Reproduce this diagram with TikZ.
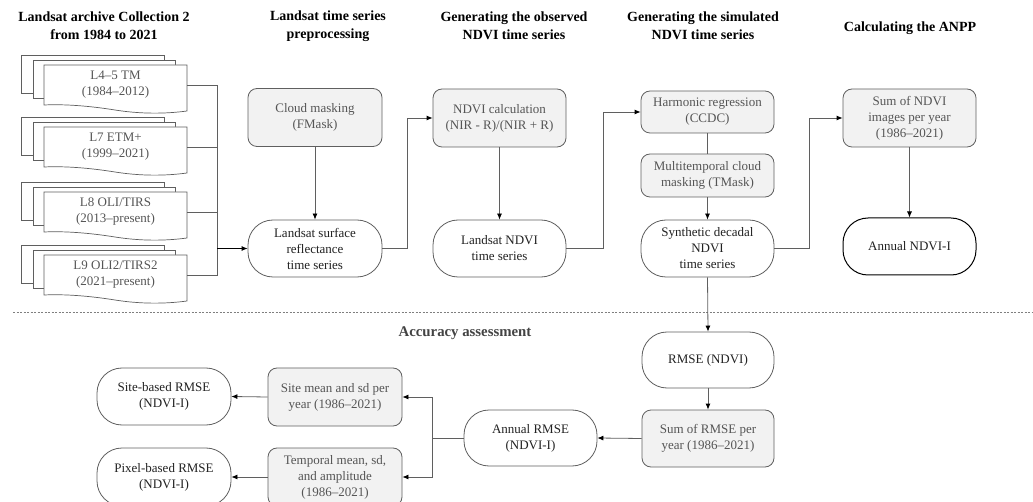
\documentclass[tikz,border=0pt]{standalone}
\usepackage{fontspec}
\setmainfont{Liberation Serif}
\usetikzlibrary{arrows.meta,calc}
\definecolor{linec}{HTML}{5F5F5F}
\definecolor{boxfill}{HTML}{F2F2F2}
\definecolor{graytext}{HTML}{555555}
\definecolor{darktext}{HTML}{222222}
\newcommand\bodyfont{\fontsize{13}{16}\selectfont}
\newcommand\titlefont{\fontsize{14}{18}\selectfont\bfseries}
\tikzset{
  proc/.style={draw=linec, line width=0.8pt, fill=boxfill, rounded corners=9pt,
    minimum width=134pt, minimum height=58pt, inner sep=0pt, align=center,
    text=graytext, font=\bodyfont},
  term/.style={draw=linec, line width=0.8pt, fill=white, rounded corners=25pt,
    minimum width=134pt, minimum height=57pt, inner sep=0pt, align=center,
    text=darktext, font=\bodyfont},
  doctext/.style={minimum width=143pt, minimum height=40pt, inner sep=0pt,
    align=center, text=graytext, font=\bodyfont},
  docback/.style={draw=linec, line width=0.7pt, fill=white},
  conn/.style={draw=linec, line width=0.8pt},
  arr/.style={conn, -{Latex[length=6pt,width=5pt,fill=black,color=black]}},
  ttl/.style={align=center, text=black, font=\titlefont, inner sep=0pt},
}
\newcommand\docstack[3]{%
  \draw[docback] (21,#2-10) rectangle (164,#2+28);
  \draw[docback] (33,#2-5) rectangle (175,#2+33);
  \draw[docback] (44,#2) -- (187,#2) -- (187,#2+46)
     .. controls (165,#2+49) and (140,#2+49) .. (115,#2+45)
     .. controls (90,#2+41) and (65,#2+39) .. (44,#2+40) -- cycle;
  \node[doctext] (#1) at (115.5,#2+20) {#3};
}
\begin{document}
\begin{tikzpicture}[x=1pt,y=-1pt]
\useasboundingbox (0,0) rectangle (1033,502);
\clip (0,0) rectangle (1033,502);

% titles
\node[ttl] (t1) at (104,26) {Landsat archive Collection 2\\from 1984 to 2021};
\node[ttl] (t2) at (328,26) {Landsat time series\\preprocessing};
\node[ttl] (t3) at (514,26) {Generating the observed\\NDVI time series};
\node[ttl] (t4) at (703,26) {Generating the simulated\\NDVI time series};
\node[ttl] (t5) at (910,28) {Calculating the ANPP};
\node[ttl, text=darktext!85!white, font=\fontsize{14.8}{18}\selectfont\bfseries] (t6) at (465,333) {Accuracy assessment};

% document stacks
\docstack{d1}{65}{L4–5 TM\\(1984–2012)}
\docstack{d2}{127}{L7 ETM+\\(1999–2021)}
\docstack{d3}{192}{L8 OLI/TIRS\\(2013–present)}
\docstack{d4}{255}{L9 OLI2/TIRS2\\(2021–present)}

% upper row nodes
\node[proc] (cloud) at (315,117.5) {Cloud masking\\(FMask)};
\node[term] (refl) at (315,248.5) {Landsat surface\\reflectance\\time series};
\node[proc, minimum width=133pt] (calc) at (499.5,118) {NDVI calculation\\(NIR - R)/(NIR + R)};
\node[term, minimum width=133pt] (lndvi) at (499.5,248.5) {Landsat NDVI\\time series};
\node[proc, minimum width=133pt, minimum height=42pt] (harm) at (707.5,112) {Harmonic regression\\(CCDC)};
\node[proc, minimum width=133pt, minimum height=43pt] (multi) at (707.5,175.5) {Multitemporal cloud\\masking (TMask)};
\node[term, minimum width=133pt] (synth) at (707.5,248.5) {Synthetic decadal\\NDVI\\time series};
\node[proc, minimum width=133pt] (sumndvi) at (909.5,118) {Sum of NDVI\\images per year\\(1986–2021)};
\node[term, minimum width=133pt, draw=black, line width=1pt] (annual) at (909.5,246.5) {Annual NDVI-I};

% lower row nodes
\node[term, minimum width=132pt, minimum height=56pt] (rmse) at (708,360) {RMSE (NDVI)};
\node[proc, minimum width=132pt, minimum height=57pt] (sumrmse) at (708,438.5) {Sum of RMSE per\\year (1986–2021)};
\node[term, minimum width=133pt, minimum height=56pt] (annrmse) at (530.5,438) {Annual RMSE\\(NDVI-I)};
\node[proc] (sitemean) at (335,397) {Site mean and sd per\\year (1986–2021)};
\node[proc] (temporal) at (335,477) {Temporal mean, sd,\\and amplitude\\(1986–2021)};
\node[term] (sitebased) at (164,396.5) {Site-based RMSE\\(NDVI-I)};
\node[term, minimum height=58pt] (pixel) at (164,477) {Pixel-based RMSE\\(NDVI-I)};

% separator
\coordinate (sepL) at (13,312);
\coordinate (sepR) at (1033,312);
\draw[linec!80, line width=0.6pt, dash pattern=on 2pt off 1.5pt] (sepL) -- (sepR);

% document bus
\coordinate (bus) at (217,0);
\draw[conn] (d1.east) -- (d1.east -| bus);
\draw[conn] (d2.east) -- (d2.east -| bus);
\draw[conn] (d3.east) -- (d3.east -| bus);
\draw[conn] (d4.east) -- (d4.east -| bus) -- (d1.east -| bus);
\draw[arr, draw=black] (refl.west -| bus) -- (refl.west);

% upper connectors
\draw[arr] (cloud.south) -- (refl.north);
\draw[arr] (refl.east) -- ++(25,0) |- (calc.west);
\draw[arr] (calc.south) -- (lndvi.north);
\draw[arr] (lndvi.east) -- ++(37,0) |- (harm.west);
\draw[conn] (harm.south) -- (multi.north);
\draw[arr] (multi.south) -- (synth.north);
\draw[arr] (synth.east) -- ++(35,0) |- (sumndvi.west);
\draw[arr] (sumndvi.south) -- (annual.north);

% lower connectors
\draw[arr] (synth.south) -- (rmse.north);
\draw[arr] (rmse.south) -- (sumrmse.north);
\draw[arr] (sumrmse.west) -- (annrmse.east);
\draw[conn] (annrmse.west) -- ++(-31.5,0) coordinate (b2);
\draw[arr] (b2) |- (sitemean.east);
\draw[arr] (b2) |- (temporal.east);
\draw[arr] (sitemean.west) -- (sitebased.east);
\draw[arr] (temporal.west) -- (pixel.east);
\end{tikzpicture}
\end{document}
